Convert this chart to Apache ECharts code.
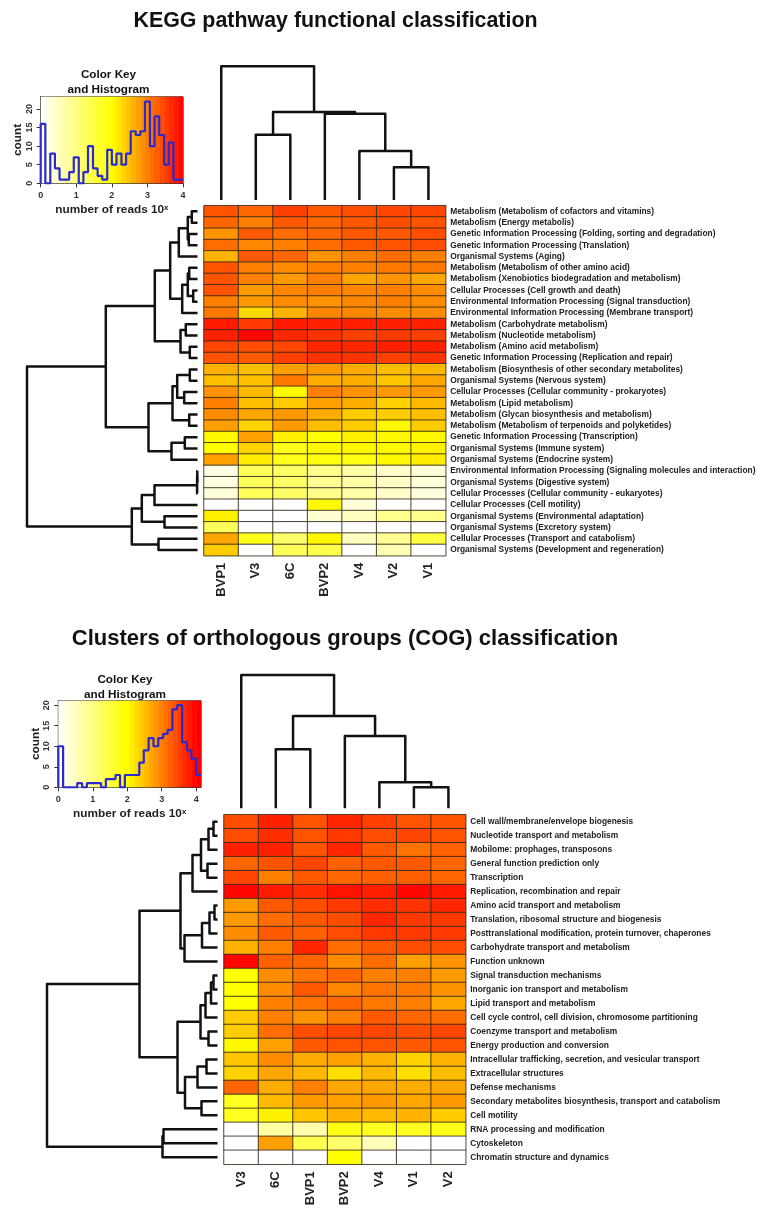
<!DOCTYPE html>
<html>
<head>
<meta charset="utf-8">
<title>KEGG and COG heatmaps</title>
<script src="https://cdn.jsdelivr.net/npm/echarts@6/dist/echarts.min.js"></script>
<style>
  html, body { margin: 0; padding: 0; background: #fff; }
  #chart { width: 776px; height: 1215px; }
</style>
</head>
<body>
<div id="chart"></div>
<script>
// KEGG panel data
var keggCols = ["BVP1", "V3", "6C", "BVP2", "V4", "V2", "V1"];
var keggRows = [
  "Metabolism (Metabolism of cofactors and vitamins)",
  "Metabolism (Energy metabolis)",
  "Genetic Information Processing (Folding, sorting and degradation)",
  "Genetic Information Processing (Translation)",
  "Organismal Systems (Aging)",
  "Metabolism (Metabolism of other amino acid)",
  "Metabolism (Xenobiotics biodegradation and metabolism)",
  "Cellular Processes (Cell growth and death)",
  "Environmental Information Processing (Signal transduction)",
  "Environmental Information Processing (Membrane transport)",
  "Metabolism (Carbohydrate metabolism)",
  "Metabolism (Nucleotide metabolism)",
  "Metabolism (Amino acid metabolism)",
  "Genetic Information Processing (Replication and repair)",
  "Metabolism (Biosynthesis of other secondary metabolites)",
  "Organismal Systems (Nervous system)",
  "Cellular Processes (Cellular community - prokaryotes)",
  "Metabolism (Lipid metabolism)",
  "Metabolism (Glycan biosynthesis and metabolism)",
  "Metabolism (Metabolism of terpenoids and polyketides)",
  "Genetic Information Processing (Transcription)",
  "Organismal Systems (Immune system)",
  "Organismal Systems (Endocrine system)",
  "Environmental Information Processing (Signaling molecules and interaction)",
  "Organismal Systems (Digestive system)",
  "Cellular Processes (Cellular community - eukaryotes)",
  "Cellular Processes (Cell motility)",
  "Organismal Systems (Environmental adaptation)",
  "Organismal Systems (Excretory system)",
  "Cellular Processes (Transport and catabolism)",
  "Organismal Systems (Development and regeneration)"
];
var keggValues = [
  [3.35, 3.2, 3.5, 3.3, 3.4, 3.45, 3.45],
  [3.2, 3.0, 3.3, 3.2, 3.3, 3.4, 3.35],
  [2.85, 3.3, 3.15, 3.2, 3.3, 3.3, 3.4],
  [3.15, 2.95, 3.0, 3.15, 3.3, 3.35, 3.4],
  [2.6, 3.3, 3.2, 2.85, 3.0, 3.15, 3.0],
  [3.35, 3.0, 2.9, 3.0, 3.0, 3.05, 3.05],
  [3.35, 3.0, 2.8, 3.0, 2.7, 2.85, 2.7],
  [3.35, 2.8, 2.95, 3.0, 2.95, 3.0, 2.9],
  [3.0, 2.8, 2.9, 2.85, 2.95, 3.0, 2.9],
  [3.05, 2.3, 2.6, 2.95, 2.95, 2.9, 2.9],
  [3.8, 3.55, 3.8, 3.75, 3.75, 3.75, 3.75],
  [3.75, 3.95, 3.7, 3.6, 3.5, 3.55, 3.5],
  [3.45, 3.4, 3.45, 3.7, 3.7, 3.75, 3.75],
  [3.35, 3.3, 3.5, 3.6, 3.6, 3.5, 3.6],
  [2.6, 2.5, 2.75, 2.8, 2.65, 2.5, 2.55],
  [2.5, 2.5, 3.05, 2.65, 2.65, 2.45, 2.7],
  [2.85, 2.55, 2.05, 3.0, 2.85, 2.8, 2.8],
  [3.0, 2.5, 2.4, 2.75, 2.65, 2.35, 2.55],
  [2.9, 2.7, 2.8, 2.65, 2.4, 2.4, 2.5],
  [2.75, 2.35, 2.8, 2.5, 2.4, 2.05, 2.4],
  [2.05, 2.75, 2.1, 2.0, 2.1, 2.05, 2.05],
  [2.0, 2.35, 1.8, 2.05, 2.05, 2.05, 2.1],
  [2.75, 2.15, 1.8, 1.9, 1.85, 2.05, 2.15],
  [0.2, 1.3, 1.2, 0.9, 0.7, 0.4, 0.3],
  [0.25, 1.3, 1.2, 0.85, 0.7, 0.45, 0.3],
  [0.3, 1.3, 1.2, 0.9, 0.7, 0.4, 0.25],
  [0, 0, 0, 2.05, 0.3, 0, 0],
  [2.1, 0, 0, 0.35, 0.5, 0.9, 0.9],
  [1.3, 0, 0, 0, 0, 0, 0],
  [2.7, 1.8, 1.15, 2.05, 0.5, 0.85, 1.5],
  [2.4, 0, 1.3, 1.4, 0, 0.6, 0]
];
var keggBreaks = [0, 0.13, 0.27, 0.4, 0.53, 0.67, 0.8, 0.93, 1.07, 1.2, 1.33, 1.47, 1.6, 1.73, 1.87, 2,
  2.13, 2.27, 2.4, 2.53, 2.67, 2.8, 2.93, 3.07, 3.2, 3.33, 3.47, 3.6, 3.73, 3.87, 4];
var keggCounts = [16, 0, 8, 4, 1, 1, 3, 7, 0, 3, 10, 4, 2, 1, 9, 5, 8, 5, 8, 14, 13, 14, 22, 10, 18, 13, 5, 11, 1, 1];
// merges like R hclust: negative = leaf number, positive = earlier merge number, then height
var keggRowMerges = [
  [-1, -2, 5.7], [-3, -4, 8.7], [1, 2, 9.7], [3, -5, 18.7], [-6, -7, 8.3], [-8, -9, 4.3],
  [5, 6, 9.7], [7, -10, 15.3], [4, 8, 27.3], [-11, -12, 11.7], [-13, -14, 7.7], [10, 11, 17],
  [9, 12, 42.7], [-15, -16, 7.7], [-17, -18, 13.3], [14, 15, 20.3], [-19, -20, 8.3], [16, 17, 25],
  [-21, -22, 12.7], [19, -23, 26], [18, 20, 49], [13, 21, 91.7], [-24, -25, 0.2], [23, -26, 0.4],
  [24, -27, 43], [-28, -29, 33], [25, 26, 55.7], [-30, -31, 39], [27, 28, 65.7], [22, 29, 170.5]
];
var keggColMerges = [[-6, -7, 32.7], [-5, 1, 49], [-4, 2, 86.3], [-2, -3, 65.3], [4, 3, 88], [-1, 5, 133.7]];

// COG panel data
var cogCols = ["V3", "6C", "BVP1", "BVP2", "V4", "V1", "V2"];
var cogRows = [
  "Cell wall/membrane/envelope biogenesis",
  "Nucleotide transport and metabolism",
  "Mobilome: prophages, transposons",
  "General function prediction only",
  "Transcription",
  "Replication, recombination and repair",
  "Amino acid transport and metabolism",
  "Translation, ribosomal structure and biogenesis",
  "Posttranslational modification, protein turnover, chaperones",
  "Carbohydrate transport and metabolism",
  "Function unknown",
  "Signal transduction mechanisms",
  "Inorganic ion transport and metabolism",
  "Lipid transport and metabolism",
  "Cell cycle control, cell division, chromosome partitioning",
  "Coenzyme transport and metabolism",
  "Energy production and conversion",
  "Intracellular trafficking, secretion, and vesicular transport",
  "Extracellular structures",
  "Defense mechanisms",
  "Secondary metabolites biosynthesis, transport and catabolism",
  "Cell motility",
  "RNA processing and modification",
  "Cytoskeleton",
  "Chromatin structure and dynamics"
];
var cogValues = [
  [3.4, 3.75, 3.35, 3.7, 3.5, 3.35, 3.35],
  [3.4, 3.65, 3.35, 3.55, 3.4, 3.45, 3.35],
  [3.75, 3.75, 3.35, 3.7, 3.3, 3.1, 3.25],
  [3.2, 3.35, 3.45, 3.25, 3.3, 3.3, 3.2],
  [3.45, 3.0, 3.3, 3.2, 3.25, 3.25, 3.2],
  [3.95, 3.8, 3.65, 3.85, 3.75, 3.95, 3.8],
  [2.8, 3.3, 3.4, 3.55, 3.65, 3.6, 3.7],
  [2.8, 3.15, 3.3, 3.4, 3.7, 3.55, 3.55],
  [2.9, 3.3, 3.25, 3.4, 3.55, 3.55, 3.55],
  [2.6, 3.0, 3.7, 3.15, 3.3, 3.4, 3.4],
  [3.95, 3.25, 3.2, 2.9, 3.15, 2.75, 2.85],
  [2.0, 2.9, 3.1, 3.2, 3.0, 3.0, 2.8],
  [2.0, 2.9, 3.3, 2.95, 3.1, 3.05, 2.85],
  [2.0, 3.0, 3.1, 3.2, 3.05, 3.0, 2.7],
  [2.4, 3.0, 2.85, 3.0, 3.3, 3.2, 3.15],
  [2.4, 3.15, 3.4, 3.45, 3.45, 3.4, 3.45],
  [2.05, 2.75, 3.3, 3.35, 3.35, 3.3, 3.35],
  [2.45, 2.9, 2.65, 2.75, 2.6, 2.35, 2.6],
  [2.35, 2.7, 2.55, 2.25, 2.55, 2.25, 2.5],
  [3.2, 2.65, 3.0, 2.7, 2.7, 2.65, 2.7],
  [1.75, 2.55, 2.8, 2.75, 2.8, 2.7, 2.8],
  [1.75, 2.1, 2.45, 2.6, 2.55, 2.6, 2.4],
  [0, 0.75, 0.65, 1.85, 1.75, 1.75, 1.8],
  [0, 2.75, 1.4, 1.15, 0.55, 0, 0],
  [0, 0, 0, 2.0, 0, 0, 0]
];
var cogBreaks = [0, 0.14, 0.28, 0.41, 0.55, 0.69, 0.83, 0.97, 1.1, 1.24, 1.38, 1.52, 1.66, 1.79, 1.93, 2.07,
  2.21, 2.35, 2.48, 2.62, 2.76, 2.9, 3.04, 3.17, 3.31, 3.45, 3.59, 3.73, 3.86, 4, 4.14];
var cogCounts = [10, 0, 0, 0, 1, 0, 1, 1, 1, 0, 2, 2, 3, 0, 3, 3, 3, 6, 9, 12, 10, 12, 13, 14, 19, 20, 11, 9, 7, 3];
var cogRowMerges = [
  [-1, -2, 4], [1, -3, 9], [-4, -5, 10], [2, 3, 16.5], [4, -6, 25], [-7, -8, 3], [6, -9, 8],
  [7, -10, 15.5], [8, -11, 33], [5, 9, 37], [-12, -13, 4], [11, -14, 6.5], [12, -15, 12],
  [-16, -17, 9], [13, 14, 17], [-18, -19, 11], [16, -20, 20], [-21, -22, 16], [17, 18, 32.5],
  [15, 19, 40], [10, 20, 78], [-23, -24, 54], [22, -25, 55], [21, 23, 170.5]
];
var cogColMerges = [[-6, -7, 21], [-5, 1, 26], [-4, 2, 72.3], [-2, -3, 59], [4, 3, 92.3], [-1, 5, 133.3]];

var FONT = "Liberation Sans";
var grids = [], xAxes = [], yAxes = [], series = [], colorSeries = [], titles = [];

// turn merges into U shapes: [pos1, h1, pos2, h2, h]
function dendroSegments(merges) {
  var nodes = [];
  function node(id) {
    return id < 0 ? { pos: -id - 1, h: 0 } : nodes[id - 1];
  }
  return merges.map(function (m) {
    var a = node(m[0]), b = node(m[1]);
    nodes.push({ pos: (a.pos + b.pos) / 2, h: m[2] });
    return [a.pos, a.h, b.pos, b.h, m[2]];
  });
}

function addGrid(rect, xAxis, yAxis) {
  var idx = grids.length;
  grids.push({ left: rect[0], top: rect[1], width: rect[2] - rect[0], height: rect[3] - rect[1], show: false });
  xAxis.gridIndex = idx;
  yAxis.gridIndex = idx;
  xAxes.push(xAxis);
  yAxes.push(yAxis);
  return idx;
}

function addDendro(rect, merges, horizontal, nLeaves, maxH) {
  var hAxis = { type: "value", min: 0, max: maxH, show: false };
  var pAxis = { type: "value", min: -0.5, max: nLeaves - 0.5, show: false };
  if (horizontal) {
    hAxis.inverse = true;
    pAxis.inverse = true;
  }
  var idx = horizontal ? addGrid(rect, hAxis, pAxis) : addGrid(rect, pAxis, hAxis);
  series.push({
    type: "custom",
    xAxisIndex: idx,
    yAxisIndex: idx,
    silent: true,
    clip: false,
    data: dendroSegments(merges),
    encode: horizontal ? { x: [1, 3, 4], y: [0, 2] } : { x: [0, 2], y: [1, 3, 4] },
    renderItem: function (params, api) {
      var p1 = api.value(0), h1 = api.value(1), p2 = api.value(2), h2 = api.value(3), h = api.value(4);
      var pts = horizontal
        ? [[h1, p1], [h, p1], [h, p2], [h2, p2]]
        : [[p1, h1], [p1, h], [p2, h], [p2, h2]];
      return {
        type: "polyline",
        shape: { points: pts.map(function (p) { return api.coord(p); }) },
        style: { fill: null, stroke: "#111", lineWidth: 2.5, lineJoin: "round" }
      };
    }
  });
}

function addHeat(rect, cols, rows, values) {
  var idx = addGrid(rect,
    {
      type: "category", data: cols, position: "bottom",
      axisLine: { show: false }, axisTick: { show: false }, splitLine: { show: false },
      axisLabel: { rotate: 90, margin: 7, color: "#222", fontFamily: FONT, fontWeight: "bold", fontSize: 13 }
    },
    {
      type: "category", data: rows, inverse: true, position: "right",
      axisLine: { show: false }, axisTick: { show: false }, splitLine: { show: false },
      axisLabel: { margin: 4.5, color: "#222", fontFamily: FONT, fontWeight: "bold", fontSize: 8.4, interval: 0 }
    });
  var data = [];
  values.forEach(function (row, r) {
    row.forEach(function (v, c) { data.push([c, r, v]); });
  });
  colorSeries.push(series.length);
  series.push({
    type: "heatmap", xAxisIndex: idx, yAxisIndex: idx, data: data, silent: true,
    itemStyle: { borderColor: "rgba(50,40,30,0.85)", borderWidth: 1 }
  });
}

function addHist(rect, breaks, counts, xMax, yMax) {
  var idx = addGrid(rect,
    {
      type: "value", min: 0, max: xMax, position: "bottom",
      name: "number of reads 10ˣ", nameLocation: "middle", nameGap: 20,
      nameTextStyle: { color: "#222", fontFamily: FONT, fontWeight: "bold", fontSize: 11.8 },
      splitLine: { show: false },
      axisLine: { show: true, onZero: false, lineStyle: { color: "#333", width: 1 } },
      axisTick: { show: true, length: 4, customValues: [0, 1, 2, 3, 4], lineStyle: { color: "#333" } },
      axisLabel: { customValues: [0, 1, 2, 3, 4], margin: 8, color: "#333", fontFamily: FONT, fontWeight: "bold", fontSize: 9 }
    },
    {
      type: "value", min: 0, max: yMax,
      name: "count", nameLocation: "middle", nameGap: 17,
      nameTextStyle: { color: "#222", fontFamily: FONT, fontWeight: "bold", fontSize: 11.8 },
      splitLine: { show: false },
      axisLine: { show: true, lineStyle: { color: "#333", width: 1 } },
      axisTick: { show: true, length: 4, customValues: [0, 5, 10, 15, 20], lineStyle: { color: "#333" } },
      axisLabel: { customValues: [0, 5, 10, 15, 20], rotate: 90, margin: 7, color: "#333", fontFamily: FONT, fontWeight: "bold", fontSize: 9 }
    });
  grids[idx].show = true;
  grids[idx].borderColor = "#444";
  grids[idx].borderWidth = 1;
  // colour key stripes use the same bins as the histogram
  colorSeries.push(series.length);
  series.push({
    type: "custom", xAxisIndex: idx, yAxisIndex: idx, silent: true,
    data: counts.map(function (c, i) {
      return [breaks[i], breaks[i + 1], Math.min((breaks[i] + breaks[i + 1]) / 2, 4)];
    }),
    encode: { x: [0, 1] },
    renderItem: function (params, api) {
      var a = api.coord([api.value(0), yMax]);
      var b = api.coord([api.value(1), 0]);
      return {
        type: "rect",
        shape: { x: a[0], y: a[1], width: b[0] - a[0] + 0.5, height: b[1] - a[1] },
        style: { fill: api.visual("color") }
      };
    }
  });
  var outline = [[0, 0]];
  counts.forEach(function (c, i) { outline.push([breaks[i], c]); });
  outline.push([breaks[counts.length], counts[counts.length - 1]]);
  series.push({
    type: "line", xAxisIndex: idx, yAxisIndex: idx, data: outline, step: "end", silent: true,
    showSymbol: false, lineStyle: { color: "#2a2ad0", width: 2.2 }, z: 5
  });
}

function titleText(text, cx, top, size) {
  titles.push({
    text: text, left: cx, top: top, textAlign: "center", padding: 0,
    textStyle: { fontFamily: FONT, fontWeight: "bold", fontSize: size, color: "#111", lineHeight: size + 2.5 }
  });
}

// KEGG panel
titleText("KEGG pathway functional classification", 335.5, 9, 21.4);
titleText("Color Key\nand Histogram", 108.5, 68, 11.7);
addHist([40.7, 96.7, 183, 183.3], keggBreaks, keggCounts, 4, 23.3);
addDendro([204, 66.3, 445.7, 200], keggColMerges, false, 7, 133.7);
addDendro([27, 205.7, 197.5, 555.7], keggRowMerges, true, 31, 170.5);
addHeat([204, 205.7, 445.7, 555.7], keggCols, keggRows, keggValues);

// COG panel
titleText("Clusters of orthologous groups (COG) classification", 345, 627, 22);
titleText("Color Key\nand Histogram", 125, 673, 11.7);
addHist([58.3, 700.7, 201, 787.3], cogBreaks, cogCounts, 4.14, 21.1);
addDendro([224, 675, 465.7, 808.3], cogColMerges, false, 7, 133.3);
addDendro([47, 814.7, 217.5, 1164.3], cogRowMerges, true, 25, 170.5);
addHeat([224, 814.7, 465.7, 1164.3], cogCols, cogRows, cogValues);

var chart = echarts.init(document.getElementById("chart"), null, { renderer: "canvas" });
chart.setOption({
  animation: false,
  backgroundColor: "#fff",
  title: titles,
  tooltip: { show: false },
  visualMap: {
    type: "continuous", show: false, min: 0, max: 4, dimension: 2,
    seriesIndex: colorSeries,
    inRange: { color: ["#ffffff", "#ffff00", "#ff0000"] }
  },
  grid: grids,
  xAxis: xAxes,
  yAxis: yAxes,
  series: series
});
</script>
</body>
</html>
